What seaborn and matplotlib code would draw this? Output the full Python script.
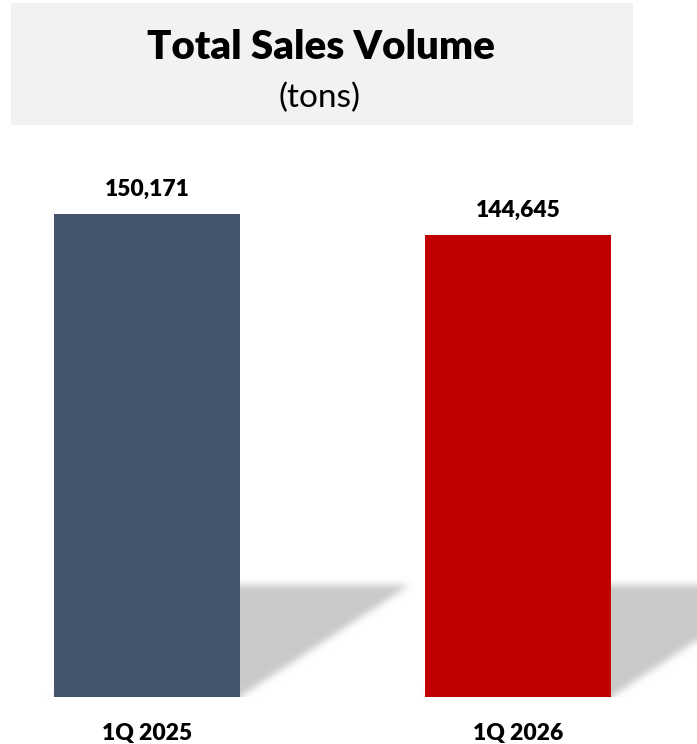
import numpy as np
import matplotlib
matplotlib.use("Agg")
import matplotlib.pyplot as plt
from matplotlib.patches import Rectangle
from matplotlib.path import Path
import seaborn as sns

# Quarterly sales volume (tons)
periods = ["1Q 2025", "1Q 2026"]
volumes = [150171, 144645]
bar_colors = ["#44546A", "#C00000"]

title = "Total Sales Volume"
subtitle = "(tons)"

sns.set_theme(style="white")
plt.rcParams["font.family"] = ["Lato", "DejaVu Sans"]

W, H, DPI = 697, 744, 100
fig = plt.figure(figsize=(W / DPI, H / DPI), dpi=DPI)
fig.patch.set_facecolor("white")

ax_bottom_px = 47
ax = fig.add_axes([0, ax_bottom_px / H, 1, (H - ax_bottom_px) / H])
ax.patch.set_visible(False)

sns.barplot(x=periods, y=volumes, hue=periods, palette=bar_colors,
            width=0.5, legend=False, ax=ax, saturation=1, zorder=3,
            linewidth=0, edgecolor="none")

XLIM = (-0.3962, 1.4825)
YLIM = (25000, 205629)
ax.set_xlim(*XLIM)
ax.set_ylim(*YLIM)
for s in ax.spines.values():
    s.set_visible(False)
ax.set_yticks([])
ax.set_xlabel("")
ax.set_ylabel("")
ax.tick_params(axis="x", length=0, pad=18.5)
for lbl in ax.get_xticklabels():
    lbl.set_fontsize(16.5)
    lbl.set_fontweight("heavy")
    lbl.set_color("black")

# value labels above each bar
for cont in ax.containers:
    ax.bar_label(cont, fmt="{:,.0f}", padding=10.5, fontsize=16.5,
                 fontweight="heavy", color="black")

# soft cast shadow behind each bar (parallelogram skewed up and to the right)
fig.canvas.draw()
ax_w = W
ax_h = H - ax_bottom_px
shadow_dx, shadow_dy = 170, 112
yy, xx = np.mgrid[0:ax_h, 0:ax_w]
pts = np.column_stack([xx.ravel() + 0.5, yy.ravel() + 0.5])
mask = np.zeros(ax_w * ax_h)
for patch in ax.patches:
    bb = patch.get_window_extent()
    x0, x1 = bb.x0, bb.x1
    poly = Path([(x0, 0), (x1, 0),
                 (x1 + shadow_dx, shadow_dy),
                 (x0 + shadow_dx, shadow_dy)])
    mask = np.maximum(mask, poly.contains_points(pts).astype(float))
mask = mask.reshape(ax_h, ax_w)

sigma = 3.5
k = np.arange(-12, 13)
kern = np.exp(-0.5 * (k / sigma) ** 2)
kern /= kern.sum()
pad = 12
m = np.pad(mask, pad, mode="edge")
m = np.apply_along_axis(lambda r: np.convolve(r, kern, mode="same"), 1, m)
m = np.apply_along_axis(lambda c: np.convolve(c, kern, mode="same"), 0, m)
m = m[pad:-pad, pad:-pad]

rgba = np.zeros((ax_h, ax_w, 4))
rgba[..., :3] = 0.79
rgba[..., 3] = m
ax.imshow(rgba, origin="lower", extent=(*XLIM, *YLIM),
          aspect="auto", zorder=1, interpolation="bilinear")
ax.set_xlim(*XLIM)
ax.set_ylim(*YLIM)

# title panel
fig.add_artist(Rectangle((11 / W, (H - 125) / H), 622 / W, 122 / H,
                         transform=fig.transFigure, facecolor="#F2F2F2",
                         edgecolor="none", zorder=0))
fig.text(321 / W, (H - 59) / H, title, ha="center", va="baseline",
         fontsize=29, fontweight="heavy", color="black")
fig.text(320 / W, (H - 107) / H, subtitle, ha="center", va="baseline",
         fontsize=24, color="black")

fig.savefig("out.png", dpi=DPI)
